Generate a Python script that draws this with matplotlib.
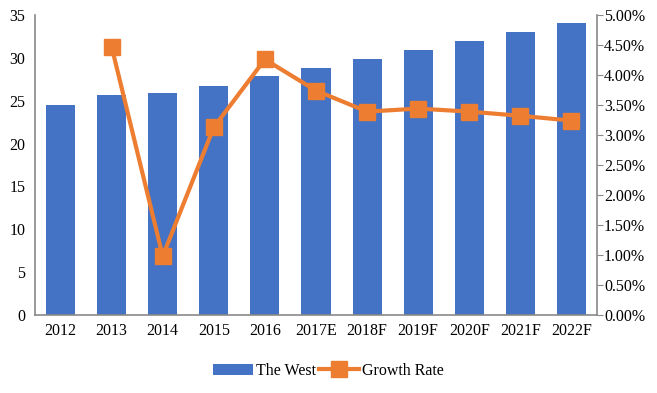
import matplotlib.pyplot as plt
from matplotlib.ticker import PercentFormatter

plt.rcParams['font.family'] = ['Liberation Serif', 'DejaVu Serif']

years = ["2012", "2013", "2014", "2015", "2016", "2017E", "2018F", "2019F", "2020F", "2021F", "2022F"]
west = [24.5, 25.7, 25.9, 26.7, 27.9, 28.8, 29.9, 30.9, 32.0, 33.0, 34.1]
growth = [None, 4.47, 0.98, 3.13, 4.26, 3.74, 3.39, 3.44, 3.39, 3.32, 3.24]

blue = "#4472C4"
orange = "#ED7D31"
grey = "#898989"

fig = plt.figure(figsize=(6.57, 3.93), dpi=100)
ax = fig.add_axes([35 / 657, 78 / 393, 562 / 657, 300 / 393])
x = list(range(len(years)))
bars = ax.bar(x, west, width=0.57, color=blue, label="The West")
ax.set_xlim(-0.5, len(years) - 0.5)
ax.set_ylim(0, 35)
ax.set_yticks(range(0, 36, 5))
ax.set_xticks(x)
ax.set_xticklabels(years)
ax.tick_params(axis="both", length=0, labelsize=11.5, pad=6)
ax.tick_params(axis="y", pad=7)
for s in ["top", "right"]:
    ax.spines[s].set_visible(False)
for s in ["left", "bottom"]:
    ax.spines[s].set_color(grey)
    ax.spines[s].set_linewidth(1.2)

ax2 = ax.twinx()
gx = [i for i, g in zip(x, growth) if g is not None]
gy = [g for g in growth if g is not None]
line, = ax2.plot(gx, gy, color=orange, lw=3, marker="s", markersize=11, label="Growth Rate")
ax2.set_ylim(0, 5)
ax2.set_yticks([i * 0.5 for i in range(11)])
ax2.yaxis.set_major_formatter(PercentFormatter(decimals=2))
ax2.tick_params(axis="y", length=4, color=grey, labelsize=11.5, pad=1)
for s in ["top", "left", "bottom"]:
    ax2.spines[s].set_visible(False)
ax2.spines["right"].set_color(grey)
ax2.spines["right"].set_linewidth(1.2)

fig.legend([bars, line], ["The West", "Growth Rate"], loc="center", bbox_to_anchor=(0.5, 22 / 393),
           ncol=2, frameon=False, fontsize=11.5, handlelength=2.5, columnspacing=0.2, handletextpad=0.2)

fig.savefig("out.png", dpi=100)
